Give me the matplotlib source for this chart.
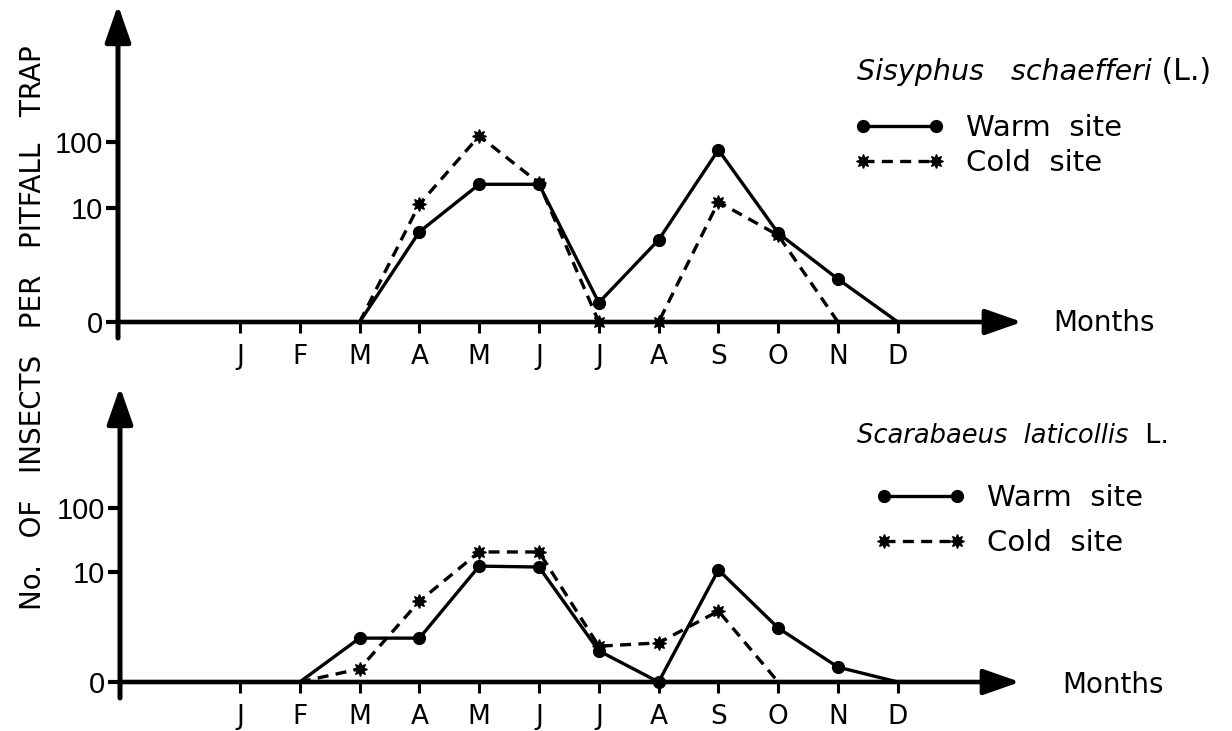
import numpy as np
import matplotlib
matplotlib.use('Agg')
import matplotlib.pyplot as plt

nan = np.nan

# month ticks
months = ['J', 'F', 'M', 'A', 'M', 'J', 'J', 'A', 'S', 'O', 'N', 'D']
month_pos = np.arange(1, 13)

# insects per pitfall trap (nan = not drawn)
sis_warm = [nan, nan, 0, 4.3, 23, 23, 0.19, 3.2, 76, 4.1, 0.68, 0]
sis_cold = [nan, nan, 0, 11.5, 123, 24, 0, 0, 12.4, 3.8, 0, nan]
sca_warm = [nan, 0, 0.76, 0.76, 12.4, 12.0, 0.41, 0, 10.8, 1.18, 0.14, 0]
sca_cold = [nan, 0, 0.12, 3.4, 20.7, 20.7, 0.52, 0.61, 2.33, 0, nan, nan]

y_ticks = [0, 10, 100]
y_ticklabels = ['0', '10', '100']

W, H = 1232, 731


def fwd(y):
    return np.log10(np.maximum(np.asarray(y, dtype=float) + 0.2, 1e-9))


def inv(v):
    return 10 ** np.asarray(v, dtype=float) - 0.2


def inner_marks(vals):
    idx = [i for i, v in enumerate(vals) if not np.isnan(v)]
    return idx[1:-1]


fig = plt.figure(figsize=(W / 100, H / 100), dpi=100)

# (left px, right px, zero px, top px, px per decade, warm, cold, species, author,
#  title size, title y, legend top, legend left, label spacing, months label)
panels = [
    (118, 1022, 322, 5, 66.7, sis_warm, sis_cold, 'Sisyphus   schaefferi', ' (L.)',
     20.5, 72, 114, 854, 0.24, (1053, 323)),
    (120, 1020, 682, 387, 64.4, sca_warm, sca_cold, 'Scarabaeus  laticollis', '  L.',
     18.5, 436, 484, 875, 0.58, (1062, 685)),
]

arrow = '-|>,head_length=0.8,head_width=0.28'

for (lpx, rpx, zpx, tpx, k, warm, cold, species, author, tsize,
     ty, leg_top, leg_left, lspace, mxy) in panels:
    ax = fig.add_axes([lpx / W, 1 - zpx / H, (rpx - lpx) / W, (zpx - tpx) / H])
    ax.set_yscale('function', functions=(fwd, inv))
    ymax = float(inv(fwd(0) + (zpx - tpx) / k))
    ax.set_ylim(0, ymax)
    x0 = 1 + (lpx - 240) / 59.8
    x1 = 1 + (rpx - 240) / 59.8
    ax.set_xlim(x0, x1)

    for s in ax.spines.values():
        s.set_visible(False)

    lw, = ax.plot(month_pos, warm, color='k', lw=2.4, marker='o', ms=8.5,
                  markevery=inner_marks(warm), clip_on=False, zorder=4,
                  label='Warm  site')
    lc, = ax.plot(month_pos, cold, color='k', lw=2.4, ls=(0, (3.3, 2.2)),
                  marker=(8, 1, 0), ms=10, markevery=inner_marks(cold),
                  clip_on=False, zorder=3, label='Cold  site')

    # axes drawn as arrows
    ax.annotate('', xy=(1, 0), xytext=(0, 0), xycoords='axes fraction',
                textcoords='axes fraction',
                arrowprops=dict(arrowstyle=arrow, lw=3.3, color='k',
                                shrinkA=0, shrinkB=0, mutation_scale=28), zorder=2)
    ax.annotate('', xy=(0, 1), xytext=(0, -16 / (zpx - tpx)), xycoords='axes fraction',
                textcoords='axes fraction',
                arrowprops=dict(arrowstyle=arrow, lw=3.6, color='k',
                                shrinkA=0, shrinkB=0, mutation_scale=28), zorder=2)

    ax.set_yticks(y_ticks)
    ax.set_yticklabels(y_ticklabels, family='Liberation Sans')
    ax.yaxis.set_minor_locator(matplotlib.ticker.NullLocator())
    ax.tick_params(axis='y', direction='out', length=9, width=3, pad=2, labelsize=21)
    ax.set_xticks(month_pos)
    ax.set_xticklabels(months)
    ax.tick_params(axis='x', direction='out', length=8, width=2.2, pad=8, labelsize=19)

    t = fig.text(857 / W, 1 - ty / H, species, style='italic', fontsize=tsize, va='center')
    ax.annotate(author, xy=(1, 0), xycoords=t, va='bottom', ha='left', fontsize=tsize + 1)

    fig.text(mxy[0] / W, 1 - mxy[1] / H, 'Months', fontsize=20, va='center')

    fig.legend(handles=[lw, lc], loc='upper left',
               bbox_to_anchor=(leg_left / W, 1 - leg_top / H), frameon=False,
               fontsize=21, handlelength=3.1, handletextpad=0.75, labelspacing=lspace,
               borderpad=0, borderaxespad=0, numpoints=2)

fig.text(33 / W, 1 - 328 / H, 'No.   OF   INSECTS   PER   PITFALL   TRAP', rotation=90,
         fontsize=20, ha='center', va='center')

fig.savefig('out.png', dpi=100)
